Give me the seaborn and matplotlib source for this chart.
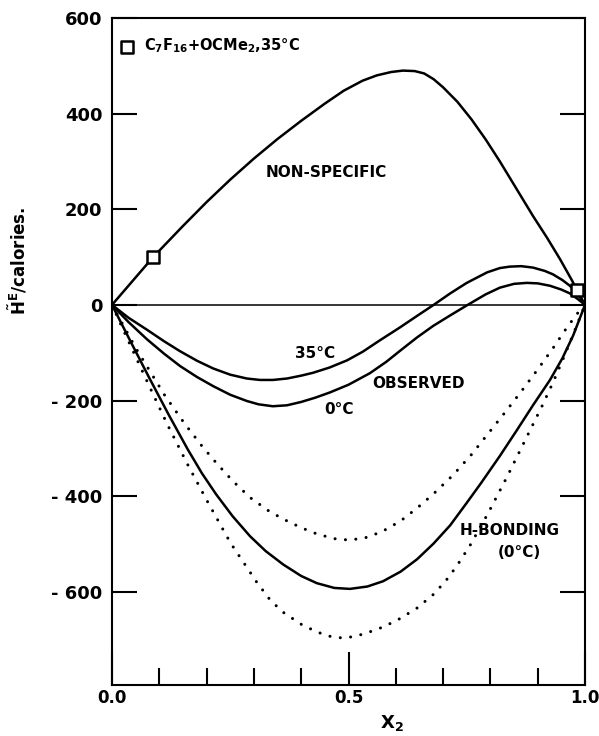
import matplotlib
matplotlib.use("Agg")
import matplotlib.pyplot as plt
import seaborn as sns
from matplotlib.ticker import FixedLocator

sns.set_style("ticks")
plt.rcParams['font.family'] = ['DejaVu Sans']
plt.rcParams['font.weight'] = 'bold'
plt.rcParams['mathtext.fontset'] = 'dejavusans'
plt.rcParams['mathtext.default'] = 'bf'
for key in ['text.color', 'axes.labelcolor', 'xtick.color', 'ytick.color', 'axes.edgecolor']:
    plt.rcParams[key] = 'black'

# Excess enthalpy (cal) vs mole fraction x2
nonspec_x = [0.0, 0.087, 0.15, 0.2, 0.25, 0.3, 0.35, 0.40, 0.45, 0.49, 0.53, 0.56, 0.59, 0.615,
             0.64, 0.66, 0.68, 0.70, 0.73, 0.76, 0.79, 0.82, 0.855, 0.89, 0.92, 0.947, 0.972, 1.0]
nonspec_y = [0, 100, 165, 215, 262, 306, 347, 385, 421, 448, 469, 480, 487, 490,
             489, 484, 472, 455, 425, 388, 346, 300, 243, 186, 140, 96, 52, 0]

obs35_x = [0.0, 0.035, 0.074, 0.11, 0.144, 0.18, 0.214, 0.25, 0.285, 0.313, 0.34, 0.37, 0.40,
           0.425, 0.46, 0.497, 0.53, 0.565, 0.609, 0.645, 0.68, 0.715, 0.75, 0.793, 0.82,
           0.841, 0.865, 0.89, 0.915, 0.932, 0.952, 0.968, 0.985, 1.0]
obs35_y = [0, -27, -52, -76, -97, -117, -133, -146, -154, -157, -157, -154, -148,
           -142, -131, -116, -98, -75, -47, -23, 0, 24, 46, 68, 77,
           80, 81, 78, 71, 64, 52, 40, 22, 0]

obs0_x = [0.0, 0.035, 0.074, 0.11, 0.144, 0.18, 0.214, 0.25, 0.285, 0.31, 0.34, 0.37, 0.40,
          0.43, 0.461, 0.50, 0.545, 0.58, 0.609, 0.645, 0.679, 0.715, 0.752, 0.79, 0.82,
          0.85, 0.877, 0.90, 0.926, 0.95, 0.968, 0.985, 1.0]
obs0_y = [0, -36, -72, -102, -128, -151, -170, -188, -201, -208, -212, -210, -203,
          -194, -183, -167, -143, -119, -96, -68, -44, -22, 0, 22, 36,
          44, 46, 45, 40, 32, 24, 12, 0]

hb_x = [0.0, 0.04, 0.08, 0.12, 0.16, 0.19, 0.22, 0.255, 0.292, 0.325, 0.362, 0.40, 0.433,
        0.47, 0.503, 0.54, 0.573, 0.61, 0.645, 0.68, 0.715, 0.75, 0.78, 0.82, 0.856,
        0.89, 0.926, 0.952, 0.975, 1.0]
hb_y = [0, -78, -155, -230, -302, -352, -396, -442, -484, -515, -543, -567, -582,
        -592, -594, -589, -578, -558, -532, -499, -461, -414, -373, -316, -262,
        -210, -157, -112, -64, 0]

hb_hi_x = [0.0, 0.05, 0.112, 0.154, 0.19, 0.22, 0.255, 0.292, 0.33, 0.362, 0.40, 0.433, 0.47,
           0.503, 0.54, 0.573, 0.61, 0.645, 0.68, 0.721, 0.76, 0.793, 0.83, 0.863, 0.90,
           0.932, 0.96, 0.983, 1.0]
hb_hi_y = [0, -90, -190, -249, -295, -330, -368, -403, -430, -448, -466, -479, -489,
           -492, -486, -473, -452, -425, -395, -356, -313, -272, -226, -184, -135,
           -91, -50, -19, 0]

hb_lo_x = [0.0, 0.02, 0.055, 0.085, 0.118, 0.16, 0.2, 0.25, 0.306, 0.335, 0.362, 0.40, 0.433,
           0.46, 0.489, 0.515, 0.539, 0.575, 0.609, 0.645, 0.679, 0.705, 0.729, 0.757,
           0.795, 0.835, 0.862, 0.89, 0.91, 0.932, 0.955, 0.979, 1.0]
hb_lo_y = [0, -44, -119, -183, -252, -334, -408, -497, -580, -618, -643, -668, -684,
           -693, -697, -693, -686, -673, -656, -634, -606, -578, -546, -503,
           -436, -360, -306, -250, -210, -163, -110, -52, 0]

# Measured points, C7F16 + OCMe2 at 35 C
meas_x = [0.087, 0.983]
meas_y = [100, 32]
meas_label = r"C$_7$F$_{16}$+OCMe$_2$,35°C"

y_ticks = [-600, -400, -200, 0, 200, 400, 600]
y_tick_labels = ["- 600", "- 400", "- 200", "0", "200", "400", "600"]
x_ticks = [0.0, 0.5, 1.0]
x_tick_labels = ["0.0", "0.5", "1.0"]
x_minor = [0.1, 0.2, 0.3, 0.4, 0.6, 0.7, 0.8, 0.9]

fig = plt.figure(figsize=(5.99, 7.36), dpi=100)
ax = fig.add_axes([112 / 599, 1 - 685 / 736, 473 / 599, 667 / 736])

ax.axhline(0, color="black", lw=1.1, zorder=1)

solid = dict(color="black", lw=1.8, sort=False, estimator=None, legend=False)
sns.lineplot(x=nonspec_x, y=nonspec_y, ax=ax, **solid)
sns.lineplot(x=obs35_x, y=obs35_y, ax=ax, **solid)
sns.lineplot(x=obs0_x, y=obs0_y, ax=ax, **solid)
sns.lineplot(x=hb_x, y=hb_y, ax=ax, **solid)
for ln in ax.lines[1:]:
    ln.set_solid_joinstyle("round")

dotted = dict(color="black", lw=2.2, sort=False, estimator=None, legend=False)
for xs, ys in [(hb_hi_x, hb_hi_y), (hb_lo_x, hb_lo_y)]:
    sns.lineplot(x=xs, y=ys, ax=ax, **dotted)
    ln = ax.lines[-1]
    ln.set_linestyle((0, (0.01, 3.4)))
    ln.set_dash_capstyle("round")

sns.scatterplot(x=meas_x, y=meas_y, ax=ax, marker="s", s=70, facecolor="white",
                edgecolor="black", linewidth=1.8, zorder=6, label=meas_label)

ax.set_xlim(0, 1)
ax.set_ylim(-795, 600)

ax.yaxis.set_major_locator(FixedLocator(y_ticks))
ax.set_yticklabels(y_tick_labels, fontsize=13, fontweight="bold")
ax.xaxis.set_major_locator(FixedLocator(x_ticks))
ax.xaxis.set_minor_locator(FixedLocator(x_minor))
ax.set_xticklabels(x_tick_labels, fontsize=12, fontweight="bold")

ax.tick_params(axis="y", which="major", direction="in", length=18, width=1.5,
               left=True, right=True, labelleft=True, labelright=False, pad=7)
ax.tick_params(axis="x", which="major", direction="in", length=24, width=1.5,
               bottom=True, top=False, pad=3)
ax.tick_params(axis="x", which="minor", direction="in", length=12, width=1.5,
               bottom=True, top=False)

for sp in ax.spines.values():
    sp.set_linewidth(1.5)
    sp.set_visible(True)

ax.set_ylabel(r"$\tilde{H}^E$/calories.", fontsize=12, fontweight="bold")
ax.yaxis.set_label_coords(-0.175, 0.636)
ax.set_xlabel(r"X$_2$", fontsize=13, fontweight="bold")
ax.xaxis.set_label_coords(0.592, -0.042)

txt = dict(fontsize=11, fontweight="bold", ha="center", va="center")
ax.text(0.453, 276, "NON-SPECIFIC", **txt)
ax.text(0.429, -102, "35°C", **txt)
ax.text(0.649, -165, "OBSERVED", **txt)
ax.text(0.48, -218, "0°C", **txt)
ax.text(0.84, -471, "H-BONDING", **txt)
ax.text(0.862, -517, "(0°C)", **txt)

ax.legend(loc="upper left", bbox_to_anchor=(0.0, 0.985), frameon=False,
          handlelength=0.8, handletextpad=0.8, borderpad=0.4, borderaxespad=0.2,
          prop={"size": 10.5, "weight": "bold"})

fig.savefig("out.png", dpi=100)
